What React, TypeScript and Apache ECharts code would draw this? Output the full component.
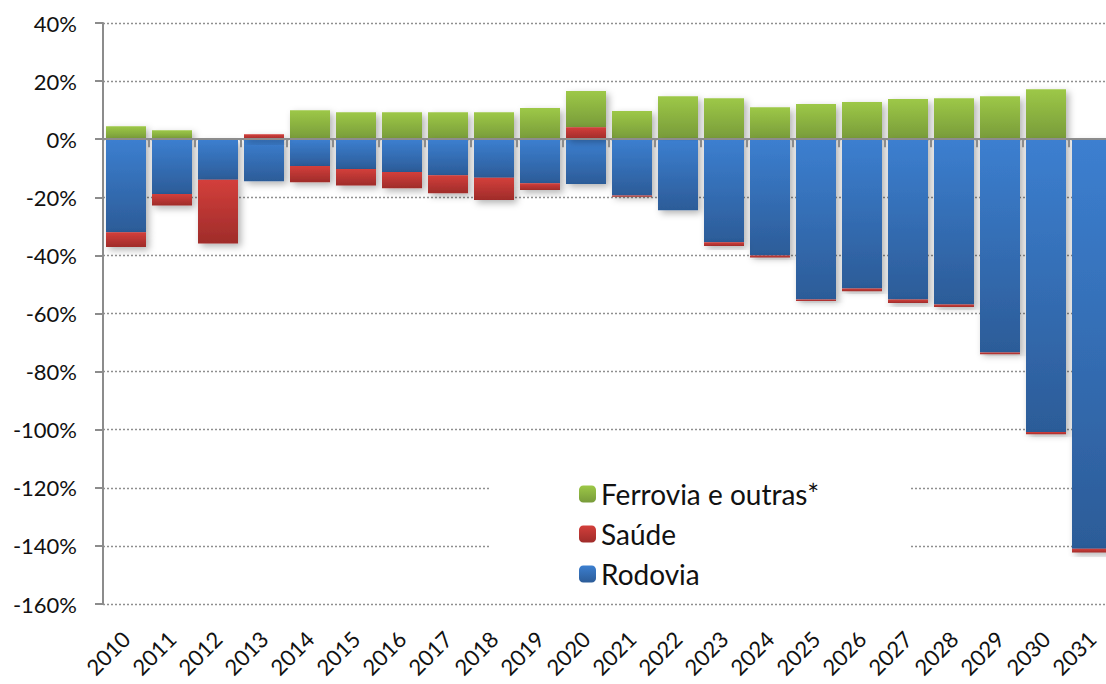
import React, { useEffect, useRef } from "react";
import * as echarts from "echarts";

const years = ["2010","2011","2012","2013","2014","2015","2016","2017","2018","2019","2020","2021","2022","2023","2024","2025","2026","2027","2028","2029","2030","2031"];
const rodovia = [-32.0,-18.9,-14.0,-14.5,-9.2,-10.3,-11.3,-12.4,-13.3,-15.2,-15.4,-19.4,-24.5,-35.5,-40.0,-55.2,-51.4,-55.2,-56.9,-73.4,-100.8,-141.0];
const saude = [-5.1,-3.9,-21.9,1.7,-5.6,-5.6,-5.6,-6.2,-7.6,-2.3,4.1,-0.4,0.3,-1.3,-0.7,-0.5,-0.9,-1.2,-0.9,-0.6,-0.8,-1.3];
const ferrovia = [4.5,3.1,0,0,10.0,9.3,9.3,9.3,9.3,10.7,12.5,9.7,14.5,14.1,11.0,12.1,12.8,13.8,14.1,14.8,17.2,0];
const yTicks = { min: -160, max: 40, interval: 20 };

const FONT = "Lato, 'Liberation Sans', sans-serif";

function grad(top: string, bottom: string) {
  return new echarts.graphic.LinearGradient(0, 0, 0, 1, [
    { offset: 0, color: top },
    { offset: 1, color: bottom },
  ]);
}

export default function App() {
  const ref = useRef<HTMLDivElement>(null);
  useEffect(() => {
    document.body.style.margin = "0";
    const chart = echarts.init(ref.current!, null, { renderer: "svg" });
    const shadow = {
      shadowColor: "rgba(0,0,0,0.3)",
      shadowBlur: 7,
      shadowOffsetX: 3,
      shadowOffsetY: 3,
    };
    chart.setOption({
      animation: false,
      backgroundColor: "#fff",
      grid: {
        left: 103,
        top: 23,
        width: 1012,
        height: 581,
        containLabel: false,
        outerBoundsMode: "none",
      },
      legend: {
        orient: "vertical",
        left: 489,
        top: 465,
        padding: [14, 90, 10, 90],
        backgroundColor: "#fff",
        itemWidth: 17,
        itemHeight: 17,
        itemGap: 10,
        data: ["Ferrovia e outras*", "Saúde", "Rodovia"],
        textStyle: { fontFamily: FONT, fontSize: 28, color: "#111", lineHeight: 30 },
        z: 1,
      },
      xAxis: [
        {
          type: "category",
          data: years,
          position: "bottom",
          axisLine: { show: false, onZero: false },
          axisTick: { show: false },
          axisLabel: {
            interval: 0,
            rotate: 45,
            margin: 31,
            fontFamily: FONT,
            fontSize: 22,
            color: "#111",
          },
        },
        {
          type: "category",
          data: years,
          position: "bottom",
          z: 5,
          axisLine: { show: true, onZero: true, lineStyle: { color: "#8c8c8c", width: 2 } },
          axisTick: { show: true, length: 8, lineStyle: { color: "#8c8c8c", width: 2 } },
          axisLabel: { show: false },
        },
      ],
      yAxis: {
        type: "value",
        min: yTicks.min,
        max: yTicks.max,
        interval: yTicks.interval,
        axisLine: { show: true, lineStyle: { color: "#8c8c8c", width: 2 } },
        axisTick: { show: true, length: 8, lineStyle: { color: "#8c8c8c", width: 2 } },
        axisLabel: {
          formatter: (v: number) => `${v}%`,
          margin: 26,
          fontFamily: FONT,
          fontSize: 22,
          color: "#111",
        },
        splitLine: { show: true, lineStyle: { color: "#8f8f8f", width: 1.3, type: [2, 2] } },
      },
      series: [
        {
          name: "Rodovia",
          type: "bar",
          stack: "total",
          barWidth: 40,
          z: 2,
          data: rodovia,
          itemStyle: { color: grad("#3c7fd0", "#2c5c98"), ...shadow },
        },
        {
          name: "Saúde",
          type: "bar",
          stack: "total",
          barWidth: 40,
          z: 3,
          data: saude,
          itemStyle: { color: grad("#d33f3b", "#9f2c2a"), ...shadow },
        },
        {
          name: "Ferrovia e outras*",
          type: "bar",
          stack: "total",
          barWidth: 40,
          z: 1,
          data: ferrovia,
          itemStyle: { color: grad("#9dc847", "#789b3a"), ...shadow },
        },
      ],
    });
    return () => chart.dispose();
  }, []);
  return <div ref={ref} style={{ width: 1106, height: 684 }} />;
}
